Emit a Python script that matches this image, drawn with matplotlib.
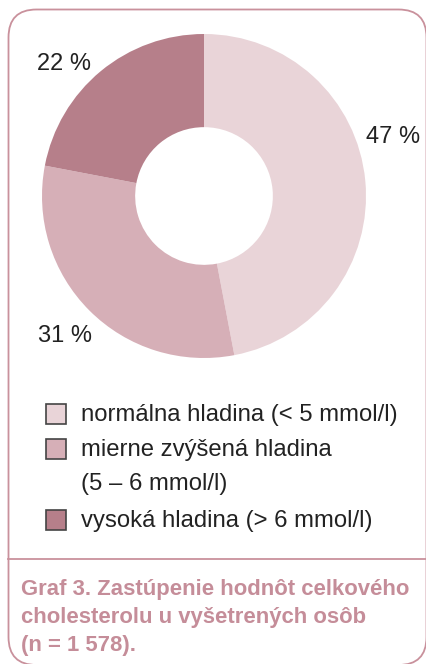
import matplotlib.pyplot as plt
from matplotlib.patches import FancyBboxPatch, Rectangle

# data
kategorie = ['normálna hladina (< 5 mmol/l)',
             'mierne zvýšená hladina\n(5 – 6 mmol/l)',
             'vysoká hladina (> 6 mmol/l)']
podiely = [47, 31, 22]
popisky = ['47 %', '31 %', '22 %']
farby = ['#e9d4d8', '#d6afb7', '#b67f8a']
nazov = 'Graf 3. Zastúpenie hodnôt celkového\ncholesterolu u vyšetrených osôb\n(n = 1 578).'

W, H = 427, 664
fig = plt.figure(figsize=(W / 100, H / 100), dpi=100)
plt.rcParams['font.family'] = ['Liberation Sans', 'DejaVu Sans']

# podklad v pixeloch
bg = fig.add_axes([0, 0, 1, 1])
bg.set_xlim(0, W)
bg.set_ylim(H, 0)
bg.axis('off')

ramec = FancyBboxPatch((8.5, 9.5), 418, 655.5, boxstyle='round,pad=0,rounding_size=28',
                       fill=False, edgecolor='#c9919c', linewidth=1.3)
bg.add_patch(ramec)
bg.plot([8.5, W], [558.5, 558.5], color='#c9919c', linewidth=1.3)

# donut
cx, cy, r = 204, 196, 162
ax = fig.add_axes([(cx - r) / W, (H - cy - r) / H, 2 * r / W, 2 * r / H])
ax.pie(podiely, colors=farby, startangle=90, counterclock=False, radius=1,
       wedgeprops=dict(width=0.575, linewidth=0))
ax.set_xlim(-1, 1)
ax.set_ylim(-1, 1)
ax.set_aspect('equal')
ax.axis('off')

poz_popisky = [(1.165, 0.365), (-0.86, -0.865), (-0.865, 0.815)]
for txt, (x, y) in zip(popisky, poz_popisky):
    ax.text(x, y, txt, ha='center', va='center', fontsize=17, color='#222222',
            clip_on=False)

# legenda
riadky_y = [414, 449, 520]
for kat, farba, y in zip(kategorie, farby, riadky_y):
    bg.add_patch(Rectangle((46, y - 10), 20, 20, facecolor=farba,
                           edgecolor='#444444', linewidth=1.2))
    riadky = kat.split('\n')
    for i, riadok in enumerate(riadky):
        bg.text(81, y + 1 + i * 34, riadok, ha='left', va='center',
                fontsize=17.2, color='#222222')

# nadpis
for i, riadok in enumerate(nazov.split('\n')):
    bg.text(21, 595 + i * 28, riadok, ha='left', va='baseline', fontsize=15.9,
            fontweight='bold', color='#c58d99')

fig.savefig('out.png', dpi=100)
